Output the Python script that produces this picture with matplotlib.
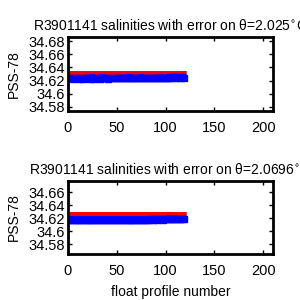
import matplotlib
matplotlib.use("Agg")
import matplotlib.pyplot as plt
import numpy as np

plt.rcParams['font.family'] = ['Liberation Sans', 'DejaVu Sans']

# profile numbers (every other profile)
profiles = list(range(1, 121, 2))

# theta level 1 (2.025 C)
map_sal_1 = [34.6310, 34.6310, 34.6310, 34.6310, 34.6310, 34.6310, 34.6310, 34.6310, 34.6310, 34.6310,
             34.6310, 34.6310, 34.6310, 34.6310, 34.6310, 34.6310, 34.6310, 34.6310, 34.6310, 34.6310,
             34.6310, 34.6310, 34.6310, 34.6310, 34.6310, 34.6310, 34.6310, 34.6310, 34.6310, 34.6310,
             34.6310, 34.6310, 34.6308, 34.6308, 34.6308, 34.6308, 34.6312, 34.6312, 34.6308, 34.6308,
             34.6306, 34.6306, 34.6306, 34.6306, 34.6306, 34.6306, 34.6306, 34.6306, 34.6306, 34.6306,
             34.6306, 34.6306, 34.6304, 34.6304, 34.6304, 34.6304, 34.6304, 34.6302, 34.6302, 34.6302]
map_err_1 = [0.0036] * 60
flt_sal_1 = [34.6232, 34.6236, 34.6230, 34.6234, 34.6237, 34.6231, 34.6235, 34.6229, 34.6236, 34.6232,
             34.6234, 34.6230, 34.6237, 34.6231, 34.6235, 34.6233, 34.6230, 34.6236, 34.6232, 34.6237,
             34.6231, 34.6235, 34.6236, 34.6232, 34.6238, 34.6233, 34.6237, 34.6235, 34.6239, 34.6236,
             34.6238, 34.6235, 34.6240, 34.6237, 34.6239, 34.6236, 34.6241, 34.6238, 34.6240, 34.6237,
             34.6241, 34.6239, 34.6242, 34.6238, 34.6243, 34.6240, 34.6242, 34.6244, 34.6241, 34.6245,
             34.6243, 34.6246, 34.6244, 34.6250, 34.6254, 34.6245, 34.6248, 34.6246, 34.6249, 34.6244]
flt_err_1 = [0.0055, 0.0050, 0.0056, 0.0052, 0.0049, 0.0055, 0.0051, 0.0057, 0.0050, 0.0054] * 4 + \
            [0.0048, 0.0053, 0.0046, 0.0052, 0.0047, 0.0051, 0.0045, 0.0050, 0.0049, 0.0044] * 2

# theta level 2 (2.0696 C)
map_sal_2 = [34.6260, 34.6260, 34.6260, 34.6260, 34.6260, 34.6260, 34.6260, 34.6260, 34.6260, 34.6260,
             34.6260, 34.6260, 34.6260, 34.6260, 34.6260, 34.6260, 34.6260, 34.6260, 34.6260, 34.6260,
             34.6260, 34.6260, 34.6260, 34.6260, 34.6260, 34.6260, 34.6260, 34.6260, 34.6260, 34.6260,
             34.6260, 34.6260, 34.6258, 34.6258, 34.6258, 34.6258, 34.6262, 34.6262, 34.6258, 34.6258,
             34.6256, 34.6256, 34.6256, 34.6256, 34.6256, 34.6256, 34.6256, 34.6256, 34.6256, 34.6256,
             34.6256, 34.6256, 34.6254, 34.6254, 34.6254, 34.6254, 34.6254, 34.6252, 34.6252, 34.6252]
map_err_2 = [0.0036] * 60
flt_sal_2 = [34.6168, 34.6172, 34.6166, 34.6170, 34.6173, 34.6167, 34.6171, 34.6165, 34.6172, 34.6168,
             34.6170, 34.6166, 34.6173, 34.6167, 34.6171, 34.6169, 34.6166, 34.6172, 34.6168, 34.6173,
             34.6167, 34.6171, 34.6172, 34.6168, 34.6174, 34.6169, 34.6173, 34.6171, 34.6175, 34.6172,
             34.6174, 34.6171, 34.6176, 34.6173, 34.6175, 34.6172, 34.6177, 34.6174, 34.6176, 34.6173,
             34.6177, 34.6175, 34.6178, 34.6174, 34.6179, 34.6176, 34.6178, 34.6180, 34.6177, 34.6181,
             34.6179, 34.6182, 34.6180, 34.6186, 34.6190, 34.6181, 34.6184, 34.6182, 34.6185, 34.6180]
flt_err_2 = [0.0060, 0.0055, 0.0061, 0.0057, 0.0054, 0.0060, 0.0056, 0.0062, 0.0055, 0.0059] * 4 + \
            [0.0053, 0.0058, 0.0051, 0.0057, 0.0052, 0.0056, 0.0050, 0.0055, 0.0054, 0.0049] * 2

titles = ['R3901141 salinities with error on θ=2.025$^{\\circ}$C',
          'R3901141 salinities with error on θ=2.0696$^{\\circ}$C']
yticks_1 = [34.58, 34.60, 34.62, 34.64, 34.66, 34.68]
yticks_2 = [34.58, 34.60, 34.62, 34.64, 34.66]
ylabels_1 = ['34.58', '34.6', '34.62', '34.64', '34.66', '34.68']
ylabels_2 = ['34.58', '34.6', '34.62', '34.64', '34.66']

fig = plt.figure(figsize=(3, 3), dpi=100)
ax1 = fig.add_axes([68/300, 1-111/300, 205/300, 74/300])
ax2 = fig.add_axes([68/300, 1-254/300, 205/300, 73/300])

sets = [(ax1, map_sal_1, map_err_1, flt_sal_1, flt_err_1, (34.5738, 34.6862), yticks_1, ylabels_1),
        (ax2, map_sal_2, map_err_2, flt_sal_2, flt_err_2, (34.5647, 34.677), yticks_2, ylabels_2)]

for i, (ax, ms, me, fs, fe, yl, yt, ytl) in enumerate(sets):
    ax.errorbar(profiles, ms, yerr=me, fmt='none', ecolor='red', elinewidth=4, capsize=0)
    ax.errorbar(profiles, fs, yerr=fe, fmt='s', color='blue', ecolor='blue',
                elinewidth=4, ms=4, capsize=0)
    ax.set_xlim(0, 210)
    ax.set_ylim(*yl)
    ax.set_xticks([0, 50, 100, 150, 200])
    ax.set_yticks(yt)
    ax.set_yticklabels(ytl)
    ax.set_ylabel('PSS-78', fontsize=10, labelpad=5)
    ax.set_title(titles[i], fontsize=10, loc='center', pad=5)
    ax.tick_params(direction='in', top=True, right=True, length=3, width=1, labelsize=10.5)
    ax.tick_params(axis='x', pad=7)
    ax.tick_params(axis='y', pad=2.5)
    for s in ax.spines.values():
        s.set_linewidth(2)

ax2.set_xlabel('float profile number', fontsize=10, labelpad=5)

fig.savefig('out.png', dpi=100)
